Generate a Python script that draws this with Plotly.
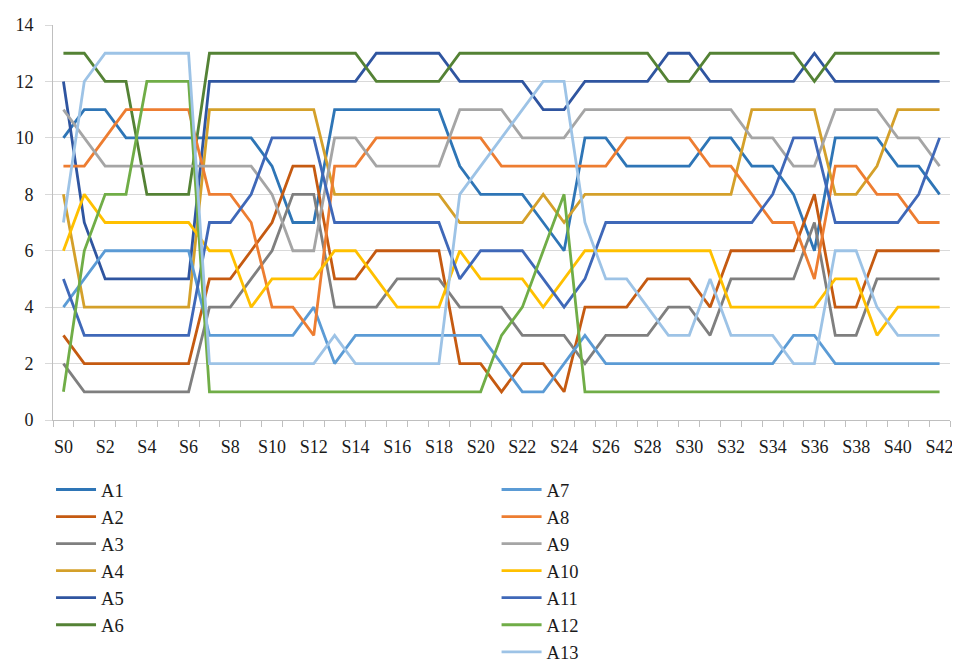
import plotly.graph_objects as go

categories = ["S0","S1","S2","S3","S4","S5","S6","S7","S8","S9","S10","S11","S12","S13","S14",
              "S15","S16","S17","S18","S19","S20","S21","S22","S23","S24","S25","S26","S27","S28",
              "S29","S30","S31","S32","S33","S34","S35","S36","S37","S38","S39","S40","S41","S42"]

A1 = [10,11,11,10,10,10,10, 10,10,10,9,7,7, 11,11,11,11,11,11, 9,8,8,8,7,6, 10,10,9,9,9,9, 10,10,9,9,8,6, 10,10,10,9,9,8]
A2 = [3,2,2,2,2,2,2, 5,5,6,7,9,9, 5,5,6,6,6,6, 2,2,1,2,2,1, 4,4,4,5,5,5, 4,6,6,6,6,8, 4,4,6,6,6,6]
A3 = [2,1,1,1,1,1,1, 4,4,5,6,8,8, 4,4,4,5,5,5, 4,4,4,3,3,3, 2,3,3,3,4,4, 3,5,5,5,5,7, 3,3,5,5,5,5]
A4 = [8,4,4,4,4,4,4, 11,11,11,11,11,11, 8,8,8,8,8,8, 7,7,7,7,8,7, 8,8,8,8,8,8, 8,8,11,11,11,11, 8,8,9,11,11,11]
A5 = [12,7,5,5,5,5,5, 12,12,12,12,12,12, 12,12,13,13,13,13, 12,12,12,12,11,11, 12,12,12,12,13,13, 12,12,12,12,12,13, 12,12,12,12,12,12]
A6 = [13,13,12,12,8,8,8, 13,13,13,13,13,13, 13,13,12,12,12,12, 13,13,13,13,13,13, 13,13,13,13,12,12, 13,13,13,13,13,12, 13,13,13,13,13,13]
A7 = [4,5,6,6,6,6,6, 3,3,3,3,3,4, 2,3,3,3,3,3, 3,3,2,1,1,2, 3,2,2,2,2,2, 2,2,2,2,3,3, 2,2,2,2,2,2]
A8 = [9,9,10,11,11,11,11, 8,8,7,4,4,3, 9,9,10,10,10,10, 10,10,9,9,9,9, 9,9,10,10,10,10, 9,9,8,7,7,5, 9,9,8,8,7,7]
A9 = [11,10,9,9,9,9,9, 9,9,9,8,6,6, 10,10,9,9,9,9, 11,11,11,10,10,10, 11,11,11,11,11,11, 11,11,10,10,9,9, 11,11,11,10,10,9]
A10 = [6,8,7,7,7,7,7, 6,6,4,5,5,5, 6,6,5,4,4,4, 6,5,5,5,4,5, 6,6,6,6,6,6, 6,4,4,4,4,4, 5,5,3,4,4,4]
A11 = [5,3,3,3,3,3,3, 7,7,8,10,10,10, 7,7,7,7,7,7, 5,6,6,6,5,4, 5,7,7,7,7,7, 7,7,7,8,10,10, 7,7,7,7,8,10]
A12 = [1,6,8,8,12,12,12, 1,1,1,1,1,1, 1,1,1,1,1,1, 1,1,3,4,6,8, 1,1,1,1,1,1, 1,1,1,1,1,1, 1,1,1,1,1,1]
A13 = [7,12,13,13,13,13,13, 2,2,2,2,2,2, 3,2,2,2,2,2, 8,9,10,11,12,12, 7,5,5,4,3,3, 5,3,3,3,2,2, 6,6,4,3,3,3]

series_names = ["A1","A2","A3","A4","A5","A6","A7","A8","A9","A10","A11","A12","A13"]
series_values = [A1,A2,A3,A4,A5,A6,A7,A8,A9,A10,A11,A12,A13]
colors = ["#2E75B6","#C55A11","#7F7F7F","#D4A02A","#2F55A0","#548235",
          "#5B9BD5","#ED7D31","#A5A5A5","#FFC000","#3F68B8","#70AD47","#9DC3E6"]

y_ticks = [0,2,4,6,8,10,12,14]
x_idx = list(range(len(categories)))

FONT = "Liberation Serif, Times New Roman, DejaVu Serif, serif"
TXT = "#1a1a1a"
fig = go.Figure()
for i, (name, vals) in enumerate(zip(series_names, series_values)):
    fig.add_trace(go.Scatter(
        x=x_idx, y=vals, name=name, mode="lines",
        line=dict(color=colors[i], width=2.8),
        legend="legend" if i < 6 else "legend2",
    ))

leg_font = dict(family=FONT, size=18.5, color=TXT)
fig.update_layout(
    width=952, height=700,
    margin=dict(l=39, r=7, t=7, b=288),
    paper_bgcolor="white", plot_bgcolor="white",
    font=dict(family=FONT, size=18, color=TXT),
    showlegend=True,
    legend=dict(x=-0.0022, y=-0.129, xanchor="left", yanchor="top",
                font=leg_font, itemwidth=40, tracegroupgap=0, bgcolor="rgba(0,0,0,0)"),
    legend2=dict(x=0.4945, y=-0.129, xanchor="left", yanchor="top",
                 font=leg_font, itemwidth=40, tracegroupgap=0, bgcolor="rgba(0,0,0,0)"),
)
fig.update_xaxes(
    range=[-0.5, len(categories) - 0.5],
    tickmode="array", tickvals=x_idx[::2], ticktext=categories[::2],
    ticks="", showgrid=False, zeroline=False,
    showline=True, linecolor="#BFBFBF", linewidth=1,
    mirror=False,
    minor=dict(ticks="outside", tick0=-0.5, dtick=1, ticklen=6, tickcolor="#BFBFBF", showgrid=False),
    tickfont=dict(family=FONT, size=18, color=TXT),
    ticklabelstandoff=10, ticklabeloverflow="allow",
)
fig.update_yaxes(
    range=[0, 14.001], tickmode="array", tickvals=y_ticks,
    showgrid=True, gridcolor="#D9D9D9", gridwidth=1, zeroline=False,
    showline=True, linecolor="#BFBFBF", linewidth=1,
    ticks="outside", ticklen=7, tickcolor="#D9D9D9",
    tickfont=dict(family=FONT, size=18, color=TXT),
    ticklabelstandoff=8, ticklabeloverflow="allow",
)
fig.write_html("out.html")
